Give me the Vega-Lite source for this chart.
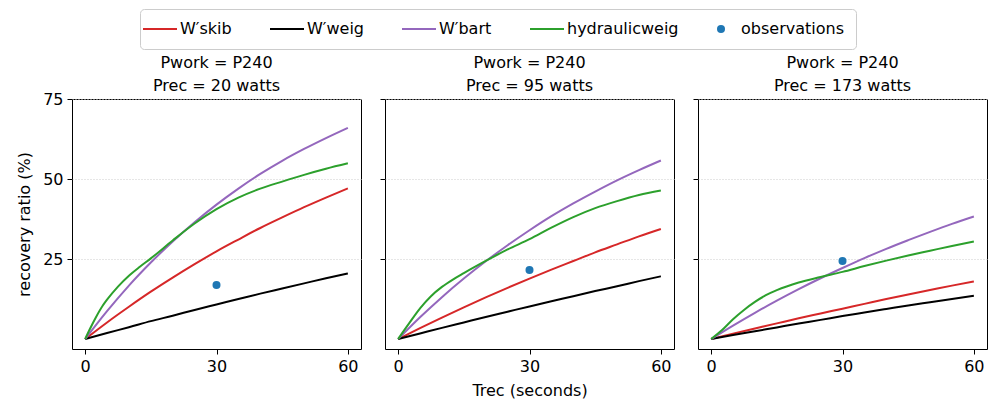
{
  "$schema": "https://vega.github.io/schema/vega-lite/v6.json",
  "padding": {"left": 16, "top": 8, "right": 5, "bottom": 0},
  "config": {
    "font": "DejaVu Sans",
    "view": {"stroke": "black", "strokeWidth": 1},
    "axis": {"domain": false, "tickColor": "black", "tickSize": 5, "labelFontSize": 16, "labelColor": "black", "titleFontSize": 16, "titleFontWeight": "normal", "titleColor": "black", "labelPadding": 4},
    "title": {"fontSize": 16, "fontWeight": "normal", "color": "black", "lineHeight": 23, "offset": 5, "anchor": "middle"}
  },
  "datasets": {
    "d": [
      {"p":20,"s":"W′skib","t":0,"v":0},{"p":20,"s":"W′skib","t":5,"v":5.2},{"p":20,"s":"W′skib","t":10,"v":10.1},{"p":20,"s":"W′skib","t":15,"v":14.8},{"p":20,"s":"W′skib","t":20,"v":19.2},{"p":20,"s":"W′skib","t":25,"v":23.4},{"p":20,"s":"W′skib","t":30,"v":27.4},{"p":20,"s":"W′skib","t":35,"v":31.1},{"p":20,"s":"W′skib","t":40,"v":34.7},{"p":20,"s":"W′skib","t":45,"v":38.0},{"p":20,"s":"W′skib","t":50,"v":41.2},{"p":20,"s":"W′skib","t":55,"v":44.2},{"p":20,"s":"W′skib","t":60,"v":47.1},
      {"p":20,"s":"W′weig","t":0,"v":0},{"p":20,"s":"W′weig","t":5,"v":1.9},{"p":20,"s":"W′weig","t":10,"v":3.7},{"p":20,"s":"W′weig","t":15,"v":5.6},{"p":20,"s":"W′weig","t":20,"v":7.3},{"p":20,"s":"W′weig","t":25,"v":9.1},{"p":20,"s":"W′weig","t":30,"v":10.8},{"p":20,"s":"W′weig","t":35,"v":12.5},{"p":20,"s":"W′weig","t":40,"v":14.2},{"p":20,"s":"W′weig","t":45,"v":15.8},{"p":20,"s":"W′weig","t":50,"v":17.4},{"p":20,"s":"W′weig","t":55,"v":19.0},{"p":20,"s":"W′weig","t":60,"v":20.5},
      {"p":20,"s":"W′bart","t":0,"v":0},{"p":20,"s":"W′bart","t":5,"v":8.7},{"p":20,"s":"W′bart","t":10,"v":16.7},{"p":20,"s":"W′bart","t":15,"v":23.9},{"p":20,"s":"W′bart","t":20,"v":30.5},{"p":20,"s":"W′bart","t":25,"v":36.5},{"p":20,"s":"W′bart","t":30,"v":42.0},{"p":20,"s":"W′bart","t":35,"v":47.0},{"p":20,"s":"W′bart","t":40,"v":51.6},{"p":20,"s":"W′bart","t":45,"v":55.7},{"p":20,"s":"W′bart","t":50,"v":59.4},{"p":20,"s":"W′bart","t":55,"v":62.8},{"p":20,"s":"W′bart","t":60,"v":66.0},
      {"p":20,"s":"hydraulicweig","t":0,"v":0},{"p":20,"s":"hydraulicweig","t":1,"v":2.9},{"p":20,"s":"hydraulicweig","t":2.5,"v":6.9},{"p":20,"s":"hydraulicweig","t":4,"v":10.4},{"p":20,"s":"hydraulicweig","t":5,"v":12.3},{"p":20,"s":"hydraulicweig","t":7.5,"v":16.4},{"p":20,"s":"hydraulicweig","t":10,"v":19.8},{"p":20,"s":"hydraulicweig","t":12.5,"v":22.6},{"p":20,"s":"hydraulicweig","t":15,"v":25.2},{"p":20,"s":"hydraulicweig","t":20,"v":30.8},{"p":20,"s":"hydraulicweig","t":25,"v":36.1},{"p":20,"s":"hydraulicweig","t":30,"v":40.6},{"p":20,"s":"hydraulicweig","t":35,"v":44.2},{"p":20,"s":"hydraulicweig","t":40,"v":47.0},{"p":20,"s":"hydraulicweig","t":45,"v":49.2},{"p":20,"s":"hydraulicweig","t":50,"v":51.3},{"p":20,"s":"hydraulicweig","t":55,"v":53.2},{"p":20,"s":"hydraulicweig","t":60,"v":54.9},
      {"p":20,"s":"observations","t":30,"v":16.9},
      {"p":95,"s":"W′skib","t":0,"v":0},{"p":95,"s":"W′skib","t":5,"v":3.4},{"p":95,"s":"W′skib","t":10,"v":6.7},{"p":95,"s":"W′skib","t":15,"v":9.9},{"p":95,"s":"W′skib","t":20,"v":13.0},{"p":95,"s":"W′skib","t":25,"v":16.0},{"p":95,"s":"W′skib","t":30,"v":18.9},{"p":95,"s":"W′skib","t":35,"v":21.7},{"p":95,"s":"W′skib","t":40,"v":24.4},{"p":95,"s":"W′skib","t":45,"v":27.1},{"p":95,"s":"W′skib","t":50,"v":29.6},{"p":95,"s":"W′skib","t":55,"v":32.1},{"p":95,"s":"W′skib","t":60,"v":34.4},
      {"p":95,"s":"W′weig","t":0,"v":0},{"p":95,"s":"W′weig","t":5,"v":1.75},{"p":95,"s":"W′weig","t":10,"v":3.5},{"p":95,"s":"W′weig","t":15,"v":5.2},{"p":95,"s":"W′weig","t":20,"v":6.9},{"p":95,"s":"W′weig","t":25,"v":8.55},{"p":95,"s":"W′weig","t":30,"v":10.2},{"p":95,"s":"W′weig","t":35,"v":11.8},{"p":95,"s":"W′weig","t":40,"v":13.4},{"p":95,"s":"W′weig","t":45,"v":15.0},{"p":95,"s":"W′weig","t":50,"v":16.5},{"p":95,"s":"W′weig","t":55,"v":18.1},{"p":95,"s":"W′weig","t":60,"v":19.6},
      {"p":95,"s":"W′bart","t":0,"v":0},{"p":95,"s":"W′bart","t":5,"v":6.8},{"p":95,"s":"W′bart","t":10,"v":13.1},{"p":95,"s":"W′bart","t":15,"v":18.9},{"p":95,"s":"W′bart","t":20,"v":24.3},{"p":95,"s":"W′bart","t":25,"v":29.3},{"p":95,"s":"W′bart","t":30,"v":34.0},{"p":95,"s":"W′bart","t":35,"v":38.4},{"p":95,"s":"W′bart","t":40,"v":42.4},{"p":95,"s":"W′bart","t":45,"v":46.1},{"p":95,"s":"W′bart","t":50,"v":49.6},{"p":95,"s":"W′bart","t":55,"v":52.8},{"p":95,"s":"W′bart","t":60,"v":55.8},
      {"p":95,"s":"hydraulicweig","t":0,"v":0},{"p":95,"s":"hydraulicweig","t":1,"v":2.0},{"p":95,"s":"hydraulicweig","t":2.5,"v":4.9},{"p":95,"s":"hydraulicweig","t":5,"v":9.6},{"p":95,"s":"hydraulicweig","t":7.5,"v":13.4},{"p":95,"s":"hydraulicweig","t":10,"v":16.3},{"p":95,"s":"hydraulicweig","t":12.5,"v":18.6},{"p":95,"s":"hydraulicweig","t":15,"v":20.6},{"p":95,"s":"hydraulicweig","t":20,"v":24.4},{"p":95,"s":"hydraulicweig","t":25,"v":28.0},{"p":95,"s":"hydraulicweig","t":30,"v":31.2},{"p":95,"s":"hydraulicweig","t":35,"v":34.8},{"p":95,"s":"hydraulicweig","t":40,"v":38.1},{"p":95,"s":"hydraulicweig","t":45,"v":40.9},{"p":95,"s":"hydraulicweig","t":50,"v":43.1},{"p":95,"s":"hydraulicweig","t":55,"v":45.0},{"p":95,"s":"hydraulicweig","t":60,"v":46.4},
      {"p":95,"s":"observations","t":30,"v":21.6},
      {"p":173,"s":"W′skib","t":0,"v":0},{"p":173,"s":"W′skib","t":5,"v":1.7},{"p":173,"s":"W′skib","t":10,"v":3.3},{"p":173,"s":"W′skib","t":15,"v":4.9},{"p":173,"s":"W′skib","t":20,"v":6.5},{"p":173,"s":"W′skib","t":25,"v":8.0},{"p":173,"s":"W′skib","t":30,"v":9.5},{"p":173,"s":"W′skib","t":35,"v":11.0},{"p":173,"s":"W′skib","t":40,"v":12.5},{"p":173,"s":"W′skib","t":45,"v":13.9},{"p":173,"s":"W′skib","t":50,"v":15.3},{"p":173,"s":"W′skib","t":55,"v":16.7},{"p":173,"s":"W′skib","t":60,"v":18.0},
      {"p":173,"s":"W′weig","t":0,"v":0},{"p":173,"s":"W′weig","t":5,"v":1.25},{"p":173,"s":"W′weig","t":10,"v":2.45},{"p":173,"s":"W′weig","t":15,"v":3.65},{"p":173,"s":"W′weig","t":20,"v":4.85},{"p":173,"s":"W′weig","t":25,"v":6.0},{"p":173,"s":"W′weig","t":30,"v":7.2},{"p":173,"s":"W′weig","t":35,"v":8.3},{"p":173,"s":"W′weig","t":40,"v":9.4},{"p":173,"s":"W′weig","t":45,"v":10.5},{"p":173,"s":"W′weig","t":50,"v":11.5},{"p":173,"s":"W′weig","t":55,"v":12.5},{"p":173,"s":"W′weig","t":60,"v":13.5},
      {"p":173,"s":"W′bart","t":0,"v":0},{"p":173,"s":"W′bart","t":5,"v":4.2},{"p":173,"s":"W′bart","t":10,"v":8.2},{"p":173,"s":"W′bart","t":15,"v":12.0},{"p":173,"s":"W′bart","t":20,"v":15.6},{"p":173,"s":"W′bart","t":25,"v":19.0},{"p":173,"s":"W′bart","t":30,"v":22.2},{"p":173,"s":"W′bart","t":35,"v":25.3},{"p":173,"s":"W′bart","t":40,"v":28.2},{"p":173,"s":"W′bart","t":45,"v":30.9},{"p":173,"s":"W′bart","t":50,"v":33.5},{"p":173,"s":"W′bart","t":55,"v":36.0},{"p":173,"s":"W′bart","t":60,"v":38.3},
      {"p":173,"s":"hydraulicweig","t":0,"v":0},{"p":173,"s":"hydraulicweig","t":2.5,"v":2.8},{"p":173,"s":"hydraulicweig","t":5,"v":6.2},{"p":173,"s":"hydraulicweig","t":7.5,"v":9.1},{"p":173,"s":"hydraulicweig","t":10,"v":11.6},{"p":173,"s":"hydraulicweig","t":12.5,"v":13.7},{"p":173,"s":"hydraulicweig","t":15,"v":15.3},{"p":173,"s":"hydraulicweig","t":20,"v":17.7},{"p":173,"s":"hydraulicweig","t":25,"v":19.4},{"p":173,"s":"hydraulicweig","t":30,"v":21.0},{"p":173,"s":"hydraulicweig","t":35,"v":22.8},{"p":173,"s":"hydraulicweig","t":40,"v":24.5},{"p":173,"s":"hydraulicweig","t":45,"v":26.1},{"p":173,"s":"hydraulicweig","t":50,"v":27.6},{"p":173,"s":"hydraulicweig","t":55,"v":29.1},{"p":173,"s":"hydraulicweig","t":60,"v":30.5},
      {"p":173,"s":"observations","t":30,"v":24.4}
    ]
  },
  "spacing": 17,
  "resolve": {"scale": {"color": "shared"}},
  "hconcat": [
    {
      "width": 289, "height": 250,
      "title": {"text": ["Pwork = P240", "Prec  = 20 watts"], "offset": -3},
      "data": {"name": "d"},
      "transform": [{"filter": "datum.p === 20"}],
      "encoding": {
        "x": {"field": "t", "type": "quantitative", "scale": {"domain": [-3, 63], "nice": false}, "axis": {"values": [0, 30, 60], "title": null, "grid": false}},
        "y": {"field": "v", "type": "quantitative", "scale": {"domain": [-3.1, 75], "nice": false, "zero": false}, "axis": {"values": [25, 50, 75], "grid": true, "gridDash": [1, 2], "gridColor": "#cccccc", "title": "recovery ratio (%)", "titlePadding": 10}},
        "color": {"field": "s", "type": "nominal",
          "scale": {"domain": ["W′skib", "W′weig", "W′bart", "hydraulicweig", "observations"], "range": ["#d62728", "#000000", "#9467bd", "#2ca02c", "#1f77b4"]},
          "legend": {"title": null, "orient": "none", "legendX": 68, "legendY": -90, "direction": "horizontal", "columns": 5, "symbolType": "stroke", "symbolSize": 1156, "symbolStrokeWidth": 2, "labelFontSize": 16, "labelColor": "black", "labelOffset": 12, "columnPadding": 34, "padding": 12, "strokeColor": "#cccccc", "cornerRadius": 4, "fillColor": "white",
            "encode": {"symbols": {"update": {
              "shape": {"signal": "datum.value === 'observations' ? 'circle' : 'stroke'"},
              "size": {"signal": "datum.value === 'observations' ? 64 : 1156"},
              "fill": {"signal": "datum.value === 'observations' ? '#1f77b4' : 'transparent'"},
              "strokeWidth": {"signal": "datum.value === 'observations' ? 0 : 2"},
              "opacity": {"value": 1}
            }}}
          }
        }
      },
      "layer": [
        {"transform": [{"filter": "datum.s !== 'observations'"}], "mark": {"type": "line", "strokeWidth": 2, "interpolate": "monotone"}},
        {"transform": [{"filter": "datum.s === 'observations'"}], "mark": {"type": "point", "filled": true, "size": 64, "opacity": 1}}
      ]
    },
    {
      "width": 289, "height": 250,
      "title": {"text": ["Pwork = P240", "Prec  = 95 watts"]},
      "data": {"name": "d"},
      "transform": [{"filter": "datum.p === 95"}],
      "encoding": {
        "x": {"field": "t", "type": "quantitative", "scale": {"domain": [-3, 63], "nice": false}, "axis": {"values": [0, 30, 60], "title": "Trec (seconds)", "grid": false, "titlePadding": 8}},
        "y": {"field": "v", "type": "quantitative", "scale": {"domain": [-3.1, 75], "nice": false, "zero": false}, "axis": {"values": [25, 50, 75], "grid": true, "gridDash": [1, 2], "gridColor": "#cccccc", "title": null, "labels": false}},
        "color": {"field": "s", "type": "nominal"}
      },
      "layer": [
        {"transform": [{"filter": "datum.s !== 'observations'"}], "mark": {"type": "line", "strokeWidth": 2, "interpolate": "monotone"}},
        {"transform": [{"filter": "datum.s === 'observations'"}], "mark": {"type": "point", "filled": true, "size": 64, "opacity": 1}}
      ]
    },
    {
      "width": 289, "height": 250,
      "title": {"text": ["Pwork = P240", "Prec  = 173 watts"]},
      "data": {"name": "d"},
      "transform": [{"filter": "datum.p === 173"}],
      "encoding": {
        "x": {"field": "t", "type": "quantitative", "scale": {"domain": [-3, 63], "nice": false}, "axis": {"values": [0, 30, 60], "title": null, "grid": false}},
        "y": {"field": "v", "type": "quantitative", "scale": {"domain": [-3.1, 75], "nice": false, "zero": false}, "axis": {"values": [25, 50, 75], "grid": true, "gridDash": [1, 2], "gridColor": "#cccccc", "title": null, "labels": false}},
        "color": {"field": "s", "type": "nominal"}
      },
      "layer": [
        {"transform": [{"filter": "datum.s !== 'observations'"}], "mark": {"type": "line", "strokeWidth": 2, "interpolate": "monotone"}},
        {"transform": [{"filter": "datum.s === 'observations'"}], "mark": {"type": "point", "filled": true, "size": 64, "opacity": 1}}
      ]
    }
  ]
}
